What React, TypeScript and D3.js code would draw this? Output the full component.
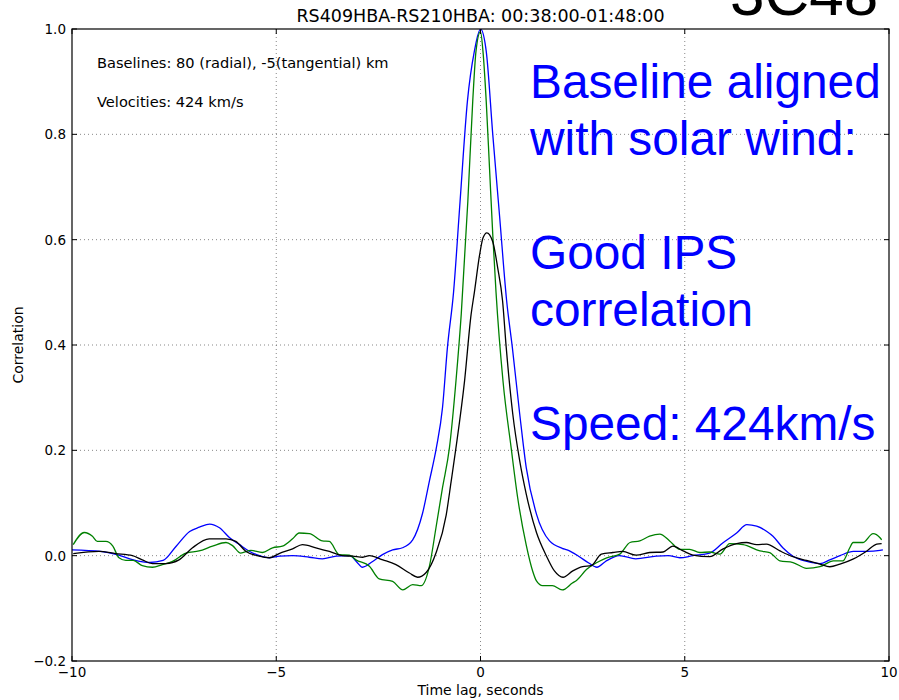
import React from "react";
import * as d3 from "d3";

const blueT = [-10, -9.3, -8.9, -8.5, -8.1, -7.77, -7.45, -7.12, -6.88, -6.63, -6.39, -6.14, -5.9, -5.65, -5.41, -5.16, -4.92, -4.6, -4.19, -3.87, -3.53, -3.2, -3.04, -2.89, -2.64, -2.4, -2.15, -1.91, -1.66, -1.42, -1.25, -1.08, -0.93, -0.81, -0.66, -0.5, -0.32, -0.15, 0, 0.14, 0.3, 0.47, 0.64, 0.78, 0.96, 1.12, 1.37, 1.69, 2.0, 2.12, 2.4, 2.65, 2.85, 3.06, 3.4, 3.8, 4.3, 4.6, 4.88, 5.2, 5.61, 5.93, 6.27, 6.52, 6.76, 7.01, 7.16, 7.4, 7.65, 7.99, 8.31, 8.55, 8.8, 9.13, 9.46, 9.78, 9.85];
const blueV = [0.011, 0.008, 0.002, -0.008, -0.013, -0.009, 0.018, 0.046, 0.054, 0.06, 0.053, 0.034, 0.021, 0.008, 0, -0.004, -0.001, 0, -0.003, -0.006, -0.001, 0, -0.011, -0.022, -0.011, 0.002, 0.011, 0.015, 0.03, 0.08, 0.142, 0.205, 0.281, 0.395, 0.5, 0.673, 0.863, 0.958, 1.0, 0.958, 0.8, 0.642, 0.484, 0.395, 0.269, 0.167, 0.079, 0.028, 0.014, 0.011, -0.001, -0.014, -0.022, -0.011, 0, -0.006, -0.001, 0, -0.004, 0, 0.005, 0.024, 0.043, 0.059, 0.056, 0.046, 0.037, 0.015, -0.001, -0.011, -0.015, -0.008, 0, 0.008, 0.008, 0.01, 0.011];

const greenT = [-9.97, -9.7, -9.5, -9.38, -9.17, -9.0, -8.85, -8.68, -8.5, -8.28, -8.03, -7.79, -7.54, -7.21, -6.89, -6.56, -6.23, -6.07, -5.87, -5.62, -5.34, -5.09, -4.85, -4.6, -4.44, -4.19, -3.87, -3.7, -3.46, -3.21, -3.05, -2.72, -2.48, -2.15, -1.9, -1.66, -1.45, -1.25, -1.09, -0.93, -0.76, -0.6, -0.47, -0.31, -0.19, -0.11, 0, 0.06, 0.14, 0.22, 0.3, 0.38, 0.55, 0.75, 0.91, 1.12, 1.28, 1.37, 1.52, 1.76, 2.0, 2.25, 2.35, 2.6, 2.85, 3.09, 3.41, 3.66, 3.9, 4.14, 4.39, 4.63, 4.88, 5.12, 5.37, 5.61, 5.86, 6.1, 6.43, 6.84, 7.08, 7.33, 7.65, 7.98, 8.31, 8.64, 8.87, 9.04, 9.12, 9.36, 9.61, 9.78, 9.82];
const greenV = [0.021, 0.044, 0.037, 0.027, 0.027, 0.018, -0.004, -0.009, -0.009, -0.019, -0.022, -0.017, -0.011, 0.005, 0.009, 0.018, 0.025, 0.019, 0.005, 0.01, 0.006, 0.015, 0.018, 0.032, 0.043, 0.042, 0.028, 0.027, 0.002, 0.001, -0.008, -0.02, -0.044, -0.049, -0.065, -0.055, -0.057, -0.02, 0.053, 0.129, 0.205, 0.332, 0.46, 0.673, 0.863, 0.958, 0.995, 0.958, 0.863, 0.737, 0.61, 0.5, 0.332, 0.205, 0.11, 0.02, -0.03, -0.048, -0.057, -0.057, -0.065, -0.052, -0.047, -0.026, -0.013, -0.004, 0.003, 0.025, 0.028, 0.037, 0.041, 0.028, 0.012, 0.012, 0.006, 0.007, 0.003, 0.023, 0.021, 0.009, 0.006, -0.01, -0.013, -0.024, -0.021, -0.01, -0.01, 0.015, 0.025, 0.025, 0.042, 0.034, 0.03];

const blackT = [-9.97, -9.34, -8.93, -8.52, -8.28, -8.03, -7.7, -7.38, -7.05, -6.64, -6.23, -5.99, -5.74, -5.42, -5.17, -4.93, -4.6, -4.36, -4.03, -3.7, -3.38, -3.13, -2.88, -2.72, -2.39, -2.07, -1.74, -1.54, -1.33, -1.09, -0.84, -0.72, -0.6, -0.39, -0.23, -0.15, -0.02, 0.06, 0.155, 0.3, 0.42, 0.54, 0.63, 0.79, 0.96, 1.12, 1.37, 1.61, 1.81, 2.02, 2.26, 2.5, 2.71, 2.96, 3.24, 3.48, 3.81, 4.14, 4.47, 4.71, 4.96, 5.2, 5.61, 5.94, 6.27, 6.51, 6.76, 7.0, 7.33, 7.65, 7.98, 8.31, 8.55, 8.8, 9.13, 9.46, 9.7, 9.82];
const blackV = [0.004, 0.008, 0.004, 0, -0.008, -0.015, -0.015, -0.008, 0.015, 0.032, 0.032, 0.027, 0.008, -0.001, -0.004, 0.004, 0.013, 0.021, 0.015, 0.008, 0, -0.001, -0.003, 0, -0.008, -0.017, -0.033, -0.041, -0.032, 0.005, 0.077, 0.14, 0.205, 0.332, 0.458, 0.5, 0.572, 0.603, 0.613, 0.596, 0.547, 0.484, 0.395, 0.269, 0.18, 0.117, 0.044, 0.0, -0.029, -0.041, -0.029, -0.021, -0.019, 0.003, 0.006, 0.008, 0.001, 0.006, 0.007, 0.018, 0.009, 0.001, -0.002, 0.013, 0.023, 0.025, 0.021, 0.022, 0.009, -0.002, -0.009, -0.016, -0.021, -0.016, -0.006, 0.009, 0.022, 0.023];

const xTicks = [-10, -5, 0, 5, 10];
const yTicks = [-0.2, 0.0, 0.2, 0.4, 0.6, 0.8, 1.0];
const title = "RS409HBA-RS210HBA: 00:38:00-01:48:00";
const sourceName = "3C48";
const infoLines = ["Baselines: 80 (radial), -5(tangential) km", "Velocities: 424 km/s"];
const noteLines = ["Baseline aligned", "with solar wind:", "", "Good IPS", "correlation", "", "Speed: 424km/s"];

const W = 899;
const H = 700;
const L = 72, R = 889, T = 29, B = 661;

export default function App() {
  const x = d3.scaleLinear().domain([-10, 10]).range([L, R]);
  const y = d3.scaleLinear().domain([-0.2, 1.0]).range([B, T]);
  const line = d3
    .line<[number, number]>()
    .x((d) => x(d[0]))
    .y((d) => y(d[1]))
    .curve(d3.curveMonotoneX);
  const zip = (a: number[], b: number[]) => a.map((t, i) => [t, b[i]] as [number, number]);
  const series = [
    { pts: zip(blueT, blueV), color: "#0000ff" },
    { pts: zip(greenT, greenV), color: "#008000" },
    { pts: zip(blackT, blackV), color: "#000000" },
  ];
  const mpl = "DejaVu Sans, sans-serif";
  const fmtY = (v: number) => (v < 0 ? "\u2212" : "") + Math.abs(v).toFixed(1);
  const fmtX = (v: number) => (v < 0 ? "\u2212" : "") + Math.abs(v).toString();
  return (
    <svg width={W} height={H} style={{ position: "absolute", left: 0, top: 0, background: "#fff" }}>
      <rect x={0} y={0} width={W} height={H} fill="#fff" />
      <defs>
        <clipPath id="plotclip">
          <rect x={L} y={T} width={R - L} height={B - T} />
        </clipPath>
      </defs>
      {/* grid */}
      {xTicks.slice(1, -1).map((t) => (
        <line key={"gx" + t} x1={x(t)} x2={x(t)} y1={T} y2={B} stroke="#555" strokeWidth={0.7} strokeDasharray="1,3" />
      ))}
      {yTicks.slice(1, -1).map((t) => (
        <line key={"gy" + t} x1={L} x2={R} y1={y(t)} y2={y(t)} stroke="#555" strokeWidth={0.7} strokeDasharray="1,3" />
      ))}
      {/* in-plot info */}
      {infoLines.map((s, i) => (
        <text key={s} x={97} y={68 + i * 39} fontFamily={mpl} fontSize={14.6} fill="#000">
          {s}
        </text>
      ))}
      {/* curves */}
      <g clipPath="url(#plotclip)">
        {series.map((s, i) => (
          <path key={i} d={line(s.pts) || ""} fill="none" stroke={s.color} strokeWidth={1.3} strokeLinejoin="round" />
        ))}
      </g>
      {/* frame */}
      <rect x={L} y={T} width={R - L} height={B - T} fill="none" stroke="#000" strokeWidth={1.2} />
      {/* ticks */}
      {xTicks.map((t) => (
        <g key={"tx" + t}>
          <line x1={x(t)} x2={x(t)} y1={B} y2={B - 5} stroke="#000" strokeWidth={1} />
          <line x1={x(t)} x2={x(t)} y1={T} y2={T + 5} stroke="#000" strokeWidth={1} />
          <text x={x(t)} y={677} textAnchor="middle" fontFamily={mpl} fontSize={13.5} fill="#000">
            {fmtX(t)}
          </text>
        </g>
      ))}
      {yTicks.map((t) => (
        <g key={"ty" + t}>
          <line x1={L} x2={L + 5} y1={y(t)} y2={y(t)} stroke="#000" strokeWidth={1} />
          <line x1={R} x2={R - 5} y1={y(t)} y2={y(t)} stroke="#000" strokeWidth={1} />
          <text x={66} y={y(t) + 5} textAnchor="end" fontFamily={mpl} fontSize={13.5} fill="#000">
            {fmtY(t)}
          </text>
        </g>
      ))}
      {/* axis labels */}
      <text x={(L + R) / 2} y={695} textAnchor="middle" fontFamily={mpl} fontSize={14} fill="#000">
        Time lag, seconds
      </text>
      <text transform={`translate(23, ${(T + B) / 2}) rotate(-90)`} textAnchor="middle" fontFamily={mpl} fontSize={14} fill="#000">
        Correlation
      </text>
      {/* title */}
      <text x={(L + R) / 2} y={22} textAnchor="middle" fontFamily={mpl} fontSize={17.5} fill="#000">
        {title}
      </text>
      {/* big source name, cut at top as in the reference */}
      <text x={730} y={15} fontFamily="Liberation Sans, Arial, sans-serif" fontSize={62} fill="#000">
        {sourceName}
      </text>
      {/* blue note */}
      {noteLines.map((s, i) =>
        s ? (
          <text key={i} x={530} y={98 + i * 57} fontFamily="Liberation Sans, Arial, sans-serif" fontSize={47.8} fill="#0000ff">
            {s}
          </text>
        ) : null
      )}
    </svg>
  );
}
